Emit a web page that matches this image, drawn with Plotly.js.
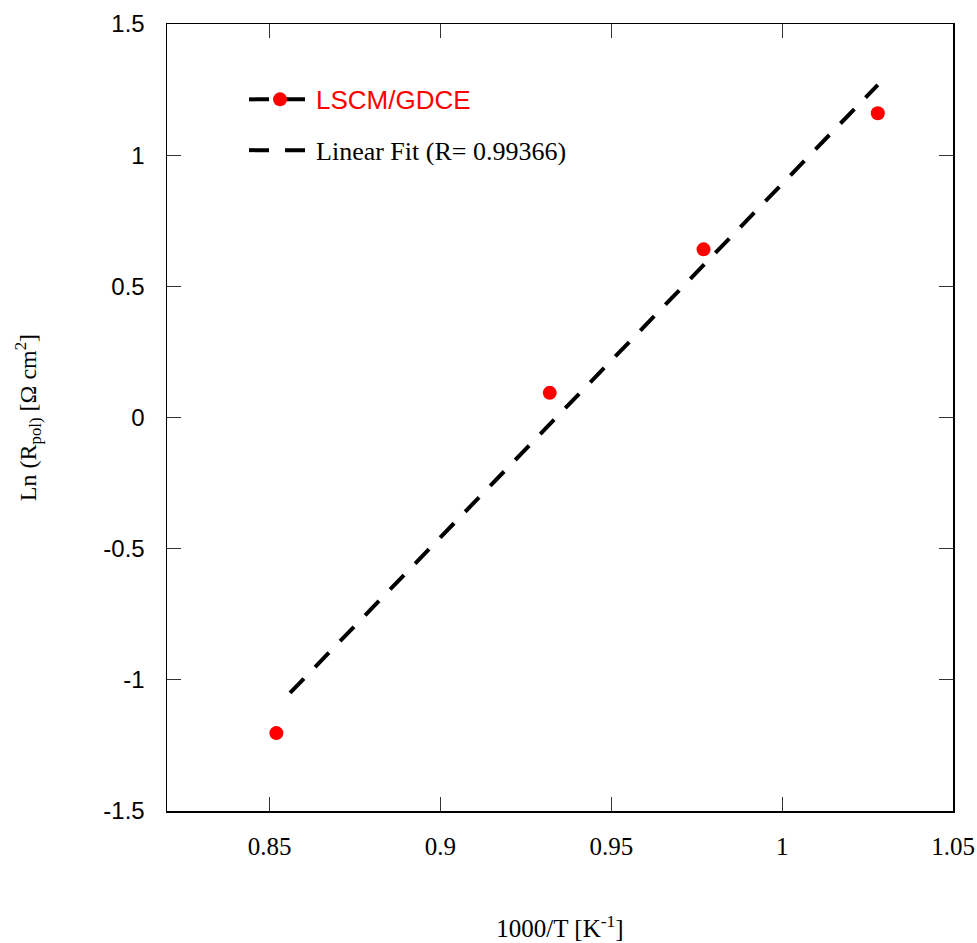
<!DOCTYPE html>
<html>
<head>
<meta charset="utf-8">
<script src="https://cdn.plot.ly/plotly-3.0.1.min.js"></script>
<style>html,body{margin:0;padding:0;background:#fff;}#chart{width:977px;height:943px;}</style>
</head>
<body>
<div id="chart"></div>
<script>
// Measured data points (1000/T vs ln Rpol)
const invT = [0.852, 0.932, 0.977, 1.028];
const lnRpol = [-1.203, 0.094, 0.641, 1.160];
// Linear fit line end points
const fitX = [0.856, 1.028];
const fitY = [-1.050, 1.268];
// Tick values and labels
const xTickVals = [0.85, 0.9, 0.95, 1, 1.05];
const xTickText = ['0.85', '0.9', '0.95', '1', '1.05'];
const yTickVals = [-1.5, -1, -0.5, 0, 0.5, 1, 1.5];
const yTickText = ['-1.5', '-1', '-0.5', '0', '0.5', '1', '1.5'];
const seriesName = 'LSCM/GDCE';
const fitName = 'Linear Fit (R= 0.99366)';

const dashStyle = '20px,16px';
const SERIF = 'Liberation Serif';
const SANS = 'Liberation Sans';

const traces = [
  {
    // legend entry for the data series (marker on dashed line)
    x: [null], y: [null],
    mode: 'lines+markers',
    name: '<span style="color:#ff0000;font-family:Liberation Sans">' + seriesName + '</span>',
    line: {color: '#000', width: 4, dash: dashStyle},
    marker: {color: '#ff0000', size: 14},
    legendgroup: 'a',
    hoverinfo: 'skip'
  },
  {
    x: fitX, y: fitY,
    mode: 'lines',
    name: fitName,
    line: {color: '#000', width: 4, dash: dashStyle},
    legendgroup: 'b'
  },
  {
    x: invT, y: lnRpol,
    mode: 'markers',
    name: seriesName,
    marker: {color: '#ff0000', size: 14},
    showlegend: false
  }
];

const layout = {
  width: 977, height: 943,
  margin: {l: 167, r: 24, t: 24, b: 132},
  paper_bgcolor: '#fff', plot_bgcolor: '#fff',
  showlegend: true,
  legend: {
    x: 0.098, y: 0.934, xanchor: 'left', yanchor: 'top',
    font: {family: SERIF, size: 26, color: '#000'},
    bgcolor: 'rgba(0,0,0,0)',
    itemwidth: 62,
    tracegroupgap: 14,
    traceorder: 'grouped'
  },
  xaxis: {
    range: [0.82, 1.05],
    tickmode: 'array', tickvals: xTickVals, ticktext: xTickText,
    ticks: 'inside', ticklen: 14, tickwidth: 1, tickcolor: '#333',
    showline: true, linecolor: '#000', linewidth: 1.5, mirror: 'ticks',
    showgrid: false, zeroline: false,
    tickfont: {family: SERIF, size: 25, color: '#000'},
    ticklabelstandoff: 12,
    title: {text: '1000/T [K<sup>-1</sup>]', font: {family: SERIF, size: 25, color: '#000'}, standoff: 61},
    automargin: false
  },
  yaxis: {
    range: [-1.5, 1.5],
    tickmode: 'array', tickvals: yTickVals, ticktext: yTickText,
    ticks: 'inside', ticklen: 14, tickwidth: 1, tickcolor: '#333',
    showline: true, linecolor: '#000', linewidth: 1.5, mirror: 'ticks',
    showgrid: false, zeroline: false,
    tickfont: {family: SANS, size: 24, color: '#000'},
    ticklabelstandoff: 16,
    title: {text: 'Ln (R<sub>pol)</sub> [Ω cm<sup>2</sup>]', font: {family: SERIF, size: 24, color: '#000'}, standoff: 60},
    automargin: false
  }
};

Plotly.newPlot('chart', traces, layout, {displayModeBar: false, staticPlot: true});
</script>
</body>
</html>
